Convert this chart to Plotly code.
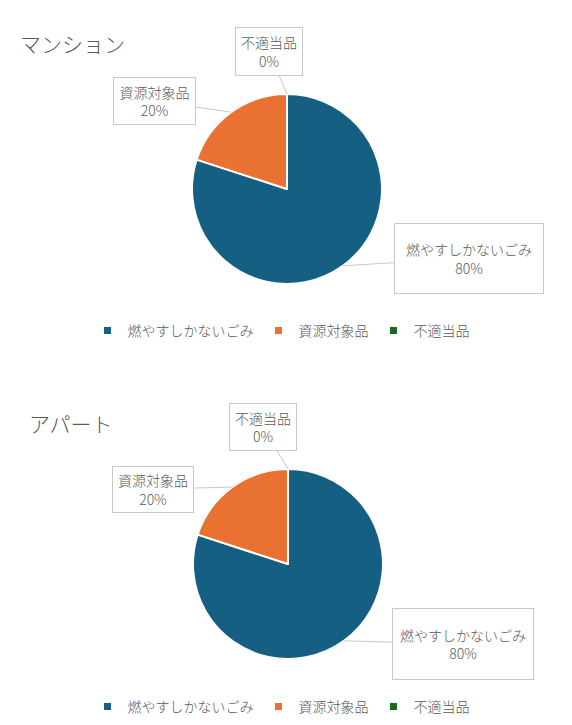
import math
import plotly.graph_objects as go

# data
categories = ["燃やすしかないごみ", "資源対象品", "不適当品"]
mansion_values = [80, 20, 0]
apart_values = [80, 20, 0]
chart_titles = ["マンション", "アパート"]
colors = ["#156082", "#E97132", "#196B24"]

# page body has an 8px margin, so the figure is drawn at (8, 8) in the window
OFF = 8
W, H = 572 - OFF, 725 - OFF
FONT = "Noto Sans CJK JP Light, Noto Sans CJK JP DemiLight, Noto Sans CJK JP"
TEXT = "#595959"


def px_x(x):
    return (x - OFF) / W


def px_y(y):
    return 1 - (y - OFF) / H


# layout of each chart (window pixels): pie centre, radius, title pos, legend y, label boxes
charts = [
    dict(values=mansion_values, title=chart_titles[0], cx=287, cy=189, r=95,
         title_xy=(18, 43), legend_y=331, legend="legend",
         boxes=[(469, 258, 148, 69), (154, 101, 81, 46), (269, 52, 66, 47)]),
    dict(values=apart_values, title=chart_titles[1], cx=288, cy=564, r=95,
         title_xy=(27, 423), legend_y=707, legend="legend2",
         boxes=[(463, 644, 140, 70), (153, 489, 80, 45), (263, 427, 66, 46)]),
]

fig = go.Figure()
annotations = []

for c in charts:
    cx, cy, r = c["cx"], c["cy"], c["r"]
    fig.add_trace(go.Pie(
        labels=categories, values=c["values"], sort=False,
        direction="clockwise", rotation=0,
        marker=dict(colors=colors, line=dict(color="white", width=2)),
        textinfo="none", showlegend=False,
        domain=dict(x=[px_x(cx - r), px_x(cx + r)],
                    y=[px_y(cy + r), px_y(cy - r)]),
    ))

    # legend entries (small square markers)
    for name, col in zip(categories, colors):
        fig.add_trace(go.Scatter(
            x=[None], y=[None], mode="markers", name=name,
            marker=dict(symbol="square", size=7, color=col),
            legend=c["legend"], hoverinfo="skip",
        ))

    # data labels with leader lines
    total = sum(c["values"])
    cum = 0
    for name, v, box in zip(categories, c["values"], c["boxes"]):
        theta = 2 * math.pi * (cum + v / 2) / total
        cum += v
        ex = cx + r * math.sin(theta)
        ey = cy - r * math.cos(theta)
        bx, by, bw, bh = box
        pct = round(100 * v / total)
        annotations.append(dict(
            x=px_x(ex), y=px_y(ey), xref="paper", yref="paper",
            ax=bx - ex, ay=by - ey,
            text=f"{name}<br>{pct}%", showarrow=True, arrowhead=0,
            arrowcolor="#C8C8C8", arrowwidth=1,
            bordercolor="#C8C8C8", borderwidth=1, borderpad=0,
            bgcolor="white", width=bw, height=bh, align="center",
            font=dict(family=FONT, size=14, color=TEXT, weight=300),
        ))

    tx, ty = c["title_xy"]
    annotations.append(dict(
        x=px_x(tx), y=px_y(ty), xref="paper", yref="paper",
        xanchor="left", yanchor="middle", showarrow=False,
        text=c["title"], font=dict(family=FONT, size=21, color=TEXT, weight=300),
    ))

legend_style = dict(orientation="h", xanchor="center", yanchor="middle", x=px_x(281),
                    font=dict(family=FONT, size=14, color=TEXT, weight=300),
                    bgcolor="rgba(0,0,0,0)", itemclick=False)

fig.update_layout(
    width=W, height=H,
    margin=dict(l=0, r=0, t=0, b=0),
    paper_bgcolor="white", plot_bgcolor="white",
    xaxis=dict(visible=False), yaxis=dict(visible=False),
    annotations=annotations,
    legend=dict(legend_style, y=px_y(charts[0]["legend_y"])),
    legend2=dict(legend_style, y=px_y(charts[1]["legend_y"])),
    font=dict(family=FONT, color=TEXT),
)

fig.write_html("out.html")
